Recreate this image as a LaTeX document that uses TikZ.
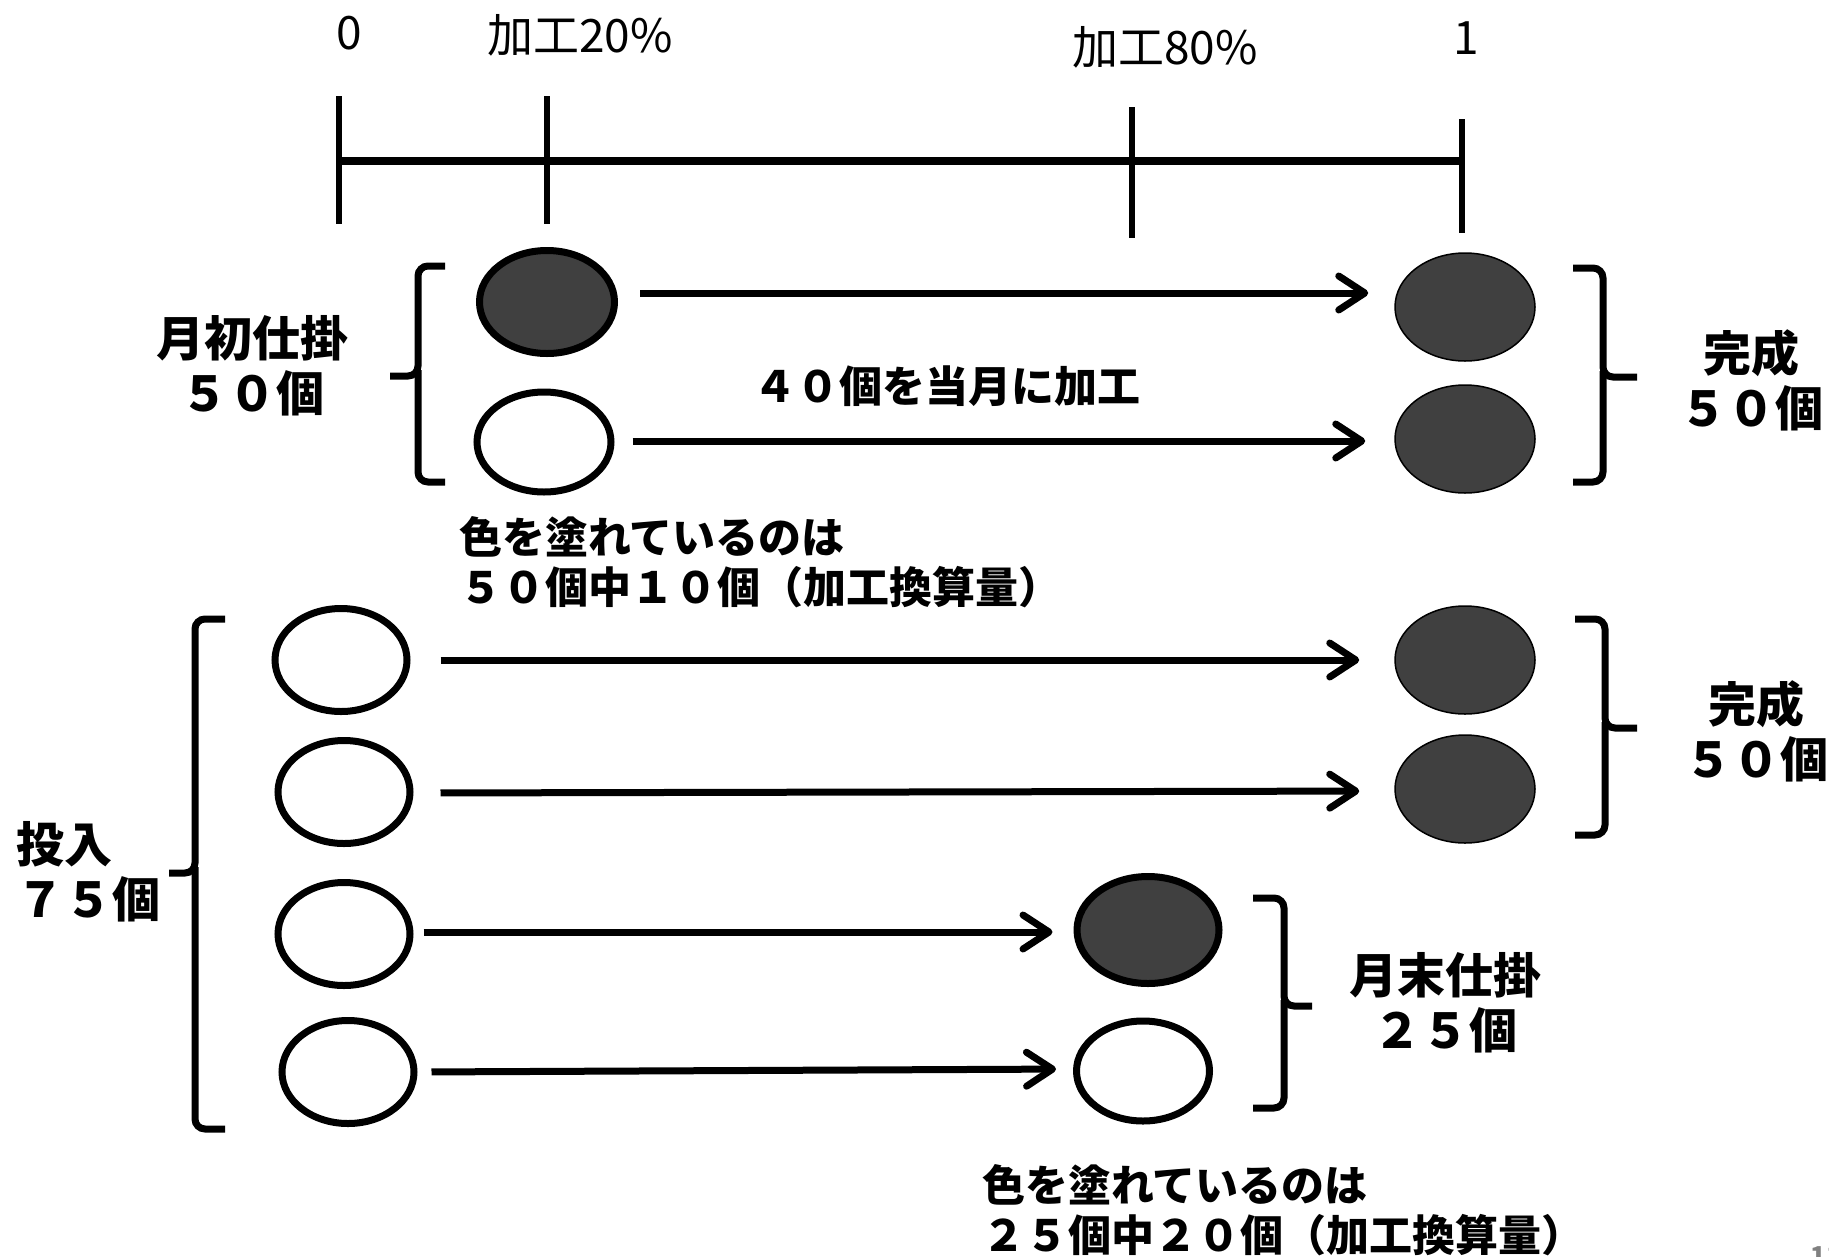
\documentclass[tikz,border=0pt]{standalone}
\usepackage{fontspec}
\setmainfont{Noto Sans CJK JP}
\usetikzlibrary{shapes.geometric,arrows.meta}
\definecolor{dk}{HTML}{404040}
\begin{document}
\begin{tikzpicture}[x=1pt,y=-1pt,
  axline/.style={line width=7.5pt},
  tickline/.style={line width=6pt},
  lbl/.style={font=\fontsize{46}{50}\selectfont, inner sep=0pt},
  bl/.style={font=\bfseries\fontsize{48}{55}\selectfont, align=center, inner sep=0pt},
  note/.style={font=\bfseries\fontsize{43}{50}\selectfont, align=left, inner sep=0pt, anchor=west},
  wb/.style={ellipse, draw, line width=7pt, fill=white, inner sep=0pt},
  db/.style={ellipse, draw, line width=1.5pt, fill=dk, inner sep=0pt, minimum width=140pt, minimum height=108pt},
  dbk/.style={ellipse, draw, line width=7pt, fill=dk, inner sep=0pt},
  arr/.style={line width=7pt, -{Straight Barb[round, length=26pt, width=34pt]}},
  brc/.style={line width=7pt, rounded corners=10pt},
]
\useasboundingbox (0,0) rectangle (1829,1256);

% axis
\draw[axline] (339,161) -- (1462,161);
\draw[tickline] (339,96) -- (339,224);
\draw[tickline] (547,96) -- (547,224);
\draw[tickline] (1132,107) -- (1132,238);
\draw[tickline] (1462,119) -- (1462,233);
\node[lbl] (t0) at (349,33) {0};
\node[lbl] (t20) at (580,35) {加工20\%};
\node[lbl] (t80) at (1165,47) {加工80\%};
\node[lbl] (t1) at (1466,38) {1};

% top group
\node[dbk, minimum width=135pt, minimum height=103pt] (E1) at (547,302) {};
\node[wb, minimum width=134pt, minimum height=100pt] (E2) at (544,442) {};
\node[db] (E3) at (1465,307) {};
\node[db] (E4) at (1465,439) {};
\draw[arr, shorten <=22pt, shorten >=26pt] ([yshift=9pt]E1.east) -- ([yshift=14pt]E3.west);
\draw[arr, shorten <=18pt, shorten >=29pt] ([yshift=1pt]E2.east) -- ([yshift=-2pt]E4.west);

\draw[brc] (445,266) -- (418,266) -- (418,376) -- (390,376);
\draw[brc] (418,370) -- (418,482) -- (445,482);
\draw[brc] (1573,268) -- (1603,268) -- (1603,377) -- (1637,377);
\draw[brc] (1603,371) -- (1603,482) -- (1573,482);

\node[bl] (lab1) at (252,366) {月初仕掛\\５０個};
\node[bl] (lab2) at (1751,380) {完成\\５０個};
\node[font=\bfseries\fontsize{43}{50}\selectfont, inner sep=0pt] (lab3) at (947,386) {４０個を当月に加工};
\node[note] (lab4) at (459,562) {色を塗れているのは\\５０個中１０個（加工換算量）};

% bottom group
\node[wb, minimum width=132pt, minimum height=103pt] (L1) at (341,660) {};
\node[wb, minimum width=132pt, minimum height=103pt] (L2) at (344,792) {};
\node[wb, minimum width=132pt, minimum height=103pt] (L3) at (344,934) {};
\node[wb, minimum width=132pt, minimum height=103pt] (L4) at (348,1072) {};
\node[db] (R1) at (1465,660) {};
\node[db] (R2) at (1465,789) {};
\node[dbk, minimum width=142pt, minimum height=107pt] (M1) at (1148,930) {};
\node[wb, minimum width=133pt, minimum height=100pt] (M2) at (1143,1071) {};

\draw[arr, shorten <=30pt, shorten >=35pt] (L1.east) -- (R1.west);
\draw[arr, shorten <=27pt, shorten >=35pt] ([yshift=-1pt]L2.east) -- ([yshift=-2pt]R2.west);
\draw[arr, shorten <=10pt, shorten >=21pt] ([yshift=2pt]L3.east) -- ([yshift=-2pt]M1.west);
\draw[arr, shorten <=14pt, shorten >=17pt] (L4.east) -- ([yshift=2pt]M2.west);

\draw[brc] (225,619) -- (195,619) -- (195,873) -- (169,873);
\draw[brc] (195,867) -- (195,1129) -- (225,1129);
\draw[brc] (1575,619) -- (1605,619) -- (1605,728) -- (1637,728);
\draw[brc] (1605,722) -- (1605,835) -- (1575,835);
\draw[brc] (1253,898) -- (1284,898) -- (1284,1006) -- (1312,1006);
\draw[brc] (1284,1000) -- (1284,1108) -- (1253,1108);

\node[bl] (lab5) at (1756,731) {完成\\５０個};
\node[bl, align=left, anchor=west] (lab6) at (16,872) {投入\\７５個};
\node[bl] (lab7) at (1445,1003) {月末仕掛\\２５個};
\node[note] (lab8) at (982,1210) {色を塗れているのは\\２５個中２０個（加工換算量）};

\node[font=\bfseries\fontsize{26}{28}\selectfont, text=gray, anchor=north west, inner sep=0pt] (pg) at (1810,1246) {11};
\end{tikzpicture}
\end{document}
